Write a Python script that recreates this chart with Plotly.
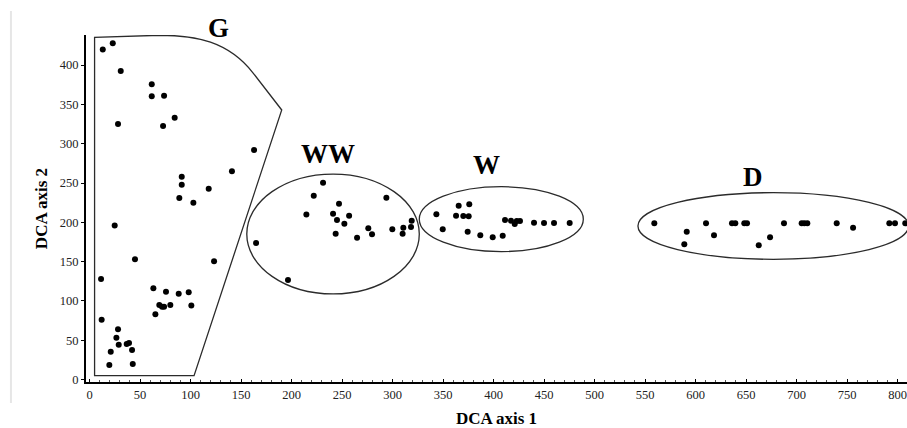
import plotly.graph_objects as go

# ---- data ----
g_x = [13.1, 23.0, 30.9, 28.2, 61.6, 61.6, 73.8, 72.8, 84.3, 162.9, 141.0, 91.3, 91.3, 88.9, 102.8, 118.0,
       24.9, 45.0, 11.4, 12.0, 63.2, 75.7, 88.3, 98.2, 65.2, 69.1, 71.8, 73.8, 80.0, 100.8, 123.3,
       28.2, 26.6, 28.9, 36.8, 39.1, 42.1, 21.0, 19.6, 42.8]
g_y = [420.0, 427.7, 392.5, 325.0, 375.6, 360.3, 361.0, 322.5, 333.0, 292.0, 265.0, 258.0, 247.8, 231.0, 225.0, 242.8,
       196.0, 153.0, 128.0, 76.0, 116.0, 111.7, 109.0, 111.0, 83.0, 94.8, 92.6, 92.6, 94.8, 94.0, 150.4,
       64.0, 53.0, 44.3, 45.0, 46.4, 37.5, 35.4, 18.4, 19.7]

ww_x = [164.9, 196.5, 231.2, 222.0, 214.7, 247.0, 241.1, 245.0, 252.3, 257.0, 243.7, 264.9, 276.0, 279.7,
        293.9, 299.8, 310.7, 310.0, 318.3, 319.0]
ww_y = [173.7, 126.6, 250.4, 233.9, 210.0, 223.7, 211.0, 203.0, 198.2, 208.4, 185.5, 180.4, 192.4, 184.7,
        231.3, 191.0, 193.0, 185.5, 194.0, 202.0]

w_x = [343.4, 349.7, 365.5, 376.0, 362.9, 370.1, 375.4, 374.4, 386.9, 399.2, 409.1, 411.4, 417.3, 421.0,
       423.0, 426.2, 440.1, 450.0, 459.9, 475.4]
w_y = [210.2, 191.0, 221.0, 222.9, 208.4, 208.0, 207.6, 188.0, 183.4, 180.9, 183.0, 203.0, 202.0, 197.8,
       201.7, 201.7, 199.5, 199.1, 199.1, 199.1]

d_x = [559.2, 591.3, 588.9, 610.4, 618.3, 636.1, 639.4, 648.3, 651.0, 662.6, 673.8, 687.6, 705.1, 707.7,
       710.7, 739.8, 756.0, 791.9, 797.5, 807.7]
d_y = [198.7, 188.0, 172.0, 198.7, 183.4, 198.7, 198.7, 198.7, 198.7, 170.7, 180.9, 198.7, 198.7, 198.7,
       198.7, 198.7, 193.0, 198.7, 198.7, 198.7]

x_ticks = list(range(0, 801, 50))
y_ticks = list(range(0, 401, 50))

group_labels = ["G", "WW", "W", "D"]

serif = "Liberation Serif, Times New Roman, serif"

fig = go.Figure()
for xs, ys, name in [(g_x, g_y, "G"), (ww_x, ww_y, "WW"), (w_x, w_y, "W"), (d_x, d_y, "D")]:
    fig.add_trace(go.Scatter(x=xs, y=ys, mode="markers", name=name,
                             marker=dict(color="black", size=6, line=dict(width=0)),
                             cliponaxis=False, showlegend=False))

line_style = dict(color="#2b2b2b", width=1.3)
shapes = [
    # G hull
    dict(type="path", xref="x", yref="y", line=line_style,
         path="M 5,4.8 L 5,435.4 L 70,438 C 104.5,438 137.4,430.7 162.2,389.6 L 190.3,342.9 L 103.5,4.8 Z"),
    # WW ellipse
    dict(type="circle", xref="x", yref="y", x0=155.7, x1=326.5, y0=108.8, y1=261.4, line=line_style),
    # W ellipse
    dict(type="circle", xref="x", yref="y", x0=326.5, x1=488.9, y0=162.7, y1=245.3, line=line_style),
    # D ellipse
    dict(type="circle", xref="x", yref="y", x0=543.0, x1=811.0, y0=152.9, y1=237.7, line=line_style),
    # faint image border on the left
    dict(type="line", xref="paper", yref="paper", x0=-0.0914, x1=-0.0914, y0=-0.0605, y1=1.0690,
         line=dict(color="#e6e6e6", width=2)),
]

# label anchors: x in data units, y in paper units (G sits above the plot area)
label_pos = [(128, 1.0216), (236.4, 0.6565), (393.3, 0.6254), (657.2, 0.5903)]
annotations = []
for lab, (ax_, ay_) in zip(group_labels, label_pos):
    annotations.append(dict(x=ax_, y=ay_, xref="x", yref="paper", text=f"<b>{lab}</b>", showarrow=False,
                            yanchor="middle",
                            font=dict(family=serif, size=27, color="black")))

fig.update_layout(
    width=907, height=428,
    margin=dict(l=86, r=0, t=35, b=46),
    paper_bgcolor="white", plot_bgcolor="white",
    shapes=shapes, annotations=annotations,
    font=dict(family=serif, color="#222"),
)
fig.update_xaxes(range=[-3.5, 809.4], tickvals=x_ticks, ticktext=[str(v) for v in x_ticks],
                 showgrid=False, zeroline=False, showline=True, linecolor="black", linewidth=2,
                 ticks="inside", ticklen=3, tickcolor="black", ticklabelstandoff=0,
                 minor=dict(dtick=10, ticks="inside", ticklen=2, tickcolor="#555", showgrid=False),
                 tickfont=dict(family=serif, size=12.5, color="#222"),
                 title=dict(text="<b>DCA axis 1</b>", font=dict(family=serif, size=17, color="black"), standoff=12))
fig.update_yaxes(range=[-3.2, 438.3], tickvals=y_ticks, ticktext=[str(v) for v in y_ticks],
                 showgrid=False, zeroline=False, showline=True, linecolor="black", linewidth=2,
                 ticks="outside", ticklen=3, tickcolor="black",
                 tickfont=dict(family=serif, size=12.5, color="#222"),
                 title=dict(text="<b>DCA axis 2</b>", font=dict(family=serif, size=17, color="black"), standoff=8))

# remove the default page margin so the figure fills the 907x428 window exactly
fig.write_html("out.html",
               config={"displayModeBar": False},
               post_script="document.body.style.margin='0';document.body.style.overflow='hidden';")
